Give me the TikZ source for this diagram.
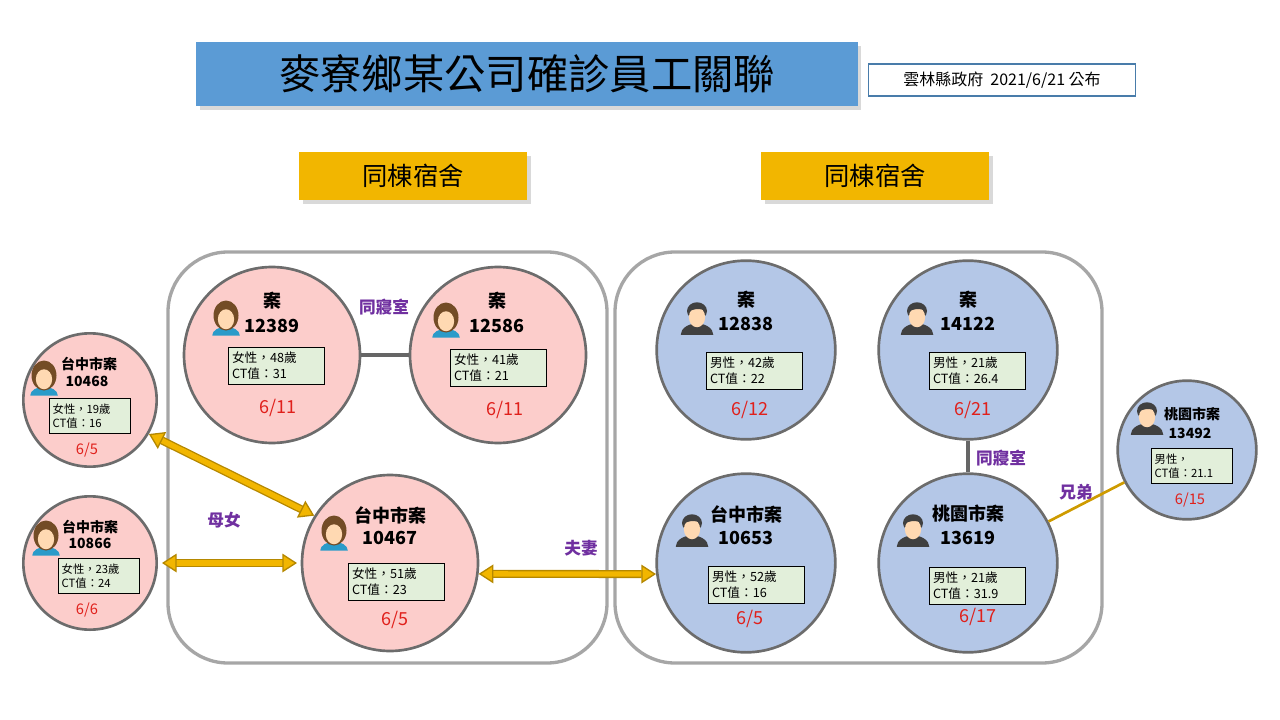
\documentclass[tikz,border=0pt]{standalone}
\usepackage{fontspec}
\setmainfont{Noto Sans CJK TC}
\usetikzlibrary{arrows.meta,shadows}
\definecolor{pinkc}{HTML}{FCCDCB}
\definecolor{bluec}{HTML}{B4C7E7}
\definecolor{infoc}{HTML}{E2EFDA}
\definecolor{goldc}{HTML}{F2B600}
\definecolor{titlec}{HTML}{5B9BD5}
\definecolor{purp}{HTML}{7030A0}
\definecolor{datec}{HTML}{E0201B}
\tikzset{
  case/.style={circle,draw=gray!85!black,line width=2pt,inner sep=0pt},
  ttl/.style={font=\bfseries\fontsize{13.5}{14}\selectfont,inner sep=0pt},
  info/.style={draw=black,fill=infoc,align=left,font=\fontsize{9.5}{12}\selectfont,inner sep=2pt,minimum width=72pt,minimum height=28pt,text width=66pt},
  sinfo/.style={info,font=\fontsize{8.5}{10.5}\selectfont,minimum width=61pt,minimum height=26pt,text width=56pt},
  datel/.style={text=datec,font=\fontsize{13.5}{14}\selectfont},
  rel/.style={text=purp,font=\bfseries\fontsize{12.5}{13}\selectfont},
  link/.style={line width=2.5pt,gray!80!black},
  kin/.style={draw=goldc!75!black,line width=1pt,double=goldc,double distance=4pt,{Triangle[length=11pt,width=14pt,fill=goldc]}-{Triangle[length=11pt,width=14pt,fill=goldc]}},
  house/.style={rounded corners=45pt,draw=gray!70,line width=2.5pt},
  banner/.style={fill=goldc,drop shadow={opacity=0.3},font=\fontsize{19}{20}\selectfont,minimum width=171pt,minimum height=36pt}
}
\newcommand\femaleicon[1]{%
  \begin{scope}[shift={#1},scale=1.25]
    \fill[cyan!60!teal] (-11,14) arc (180:360:11 and 7) -- cycle;
    \fill[brown!60!black] (0,-2) ellipse (10 and 12);
    \fill[orange!30!white] (0,1) ellipse (6.5 and 8);
  \end{scope}}
\newcommand\maleicon[1]{%
  \begin{scope}[shift={#1},scale=1.25]
    \fill[darkgray] (-13,15) arc (180:360:13 and 9) -- cycle;
    \fill[black!75] (0,-4) ellipse (8 and 7);
    \fill[orange!30!white] (0,1) ellipse (6.5 and 8);
    \fill[black!75] (-7,-3) .. controls (-3,-12) and (4,-12) .. (7,-3) -- (5,-5) .. controls (1,-6) and (-3,-6) .. (-7,-3);
  \end{scope}}
\newcommand\patient[8]{%
  \node[ttl] at #1 {#3};
  \node[ttl] at #2 {#4};
  \node[#7] at #5 {#6};
  \node[datel] at #8}
\begin{document}
\begin{tikzpicture}[x=0.75pt,y=-0.75pt]
\useasboundingbox (0,0) rectangle (1280,720);
% title
\node[fill=titlec,drop shadow={opacity=0.3},minimum width=496pt,minimum height=48pt,font=\fontsize{31}{32}\selectfont] (title) at (527,74) {麥寮鄉某公司確診員工關聯};
\node[draw=titlec!80!black,line width=1.2pt,minimum width=200pt,minimum height=24pt,font=\fontsize{12}{13}\selectfont] (src) at (1002,80) {雲林縣政府\ \ 2021/6/21 公布};
\node[banner] (dorm1) at (413,176) {同棟宿舍};
\node[banner] (dorm2) at (875,176) {同棟宿舍};
% dormitories
\draw[house] (168,252) rectangle (607,663);
\draw[house] (615,252) rectangle (1102,663);
% case circles
\node[case,fill=pinkc,minimum size=132pt] (c12389) at (272,355) {};
\node[case,fill=pinkc,minimum size=132pt] (c12586) at (498,355) {};
\node[case,fill=pinkc,minimum size=132pt] (c10467) at (390,563) {};
\node[case,fill=pinkc,minimum size=100pt] (c10468) at (90,400) {};
\node[case,fill=pinkc,minimum size=100pt] (c10866) at (90,563) {};
\node[case,fill=bluec,minimum size=134pt] (c12838) at (746,350) {};
\node[case,fill=bluec,minimum size=134pt] (c14122) at (968,350) {};
\node[case,fill=bluec,minimum size=134pt] (c10653) at (746,563) {};
\node[case,fill=bluec,minimum size=134pt] (c13619) at (968,563) {};
\node[case,fill=bluec,minimum size=104pt] (c13492) at (1187,450) {};
% relations
\draw[link] (c12389) -- (c12586);
\draw[link] (c14122) -- (c13619);
\draw[goldc!85!black,line width=2pt] (c13619) -- (c13492);
\node[rel] (r1) at (384,307) {同寢室};
\node[rel] (r2) at (1001,458) {同寢室};
\node[rel] (r3) at (1076,492) {兄弟};
\node[rel] (r4) at (224,520) {母女};
\node[rel] (r5) at (581,548) {夫妻};
\coordinate (k1) at (162,563);
\coordinate (k2) at (297,563);
\draw[kin] (c10468.-30) -- (c10467.148);
\draw[kin] (k1) -- (k2);
\draw[kin] (c10467.-7) -- (c10653.-173);
% contents
\femaleicon{(226,318)}
\patient{(272,301)}{(272,326)}{案}{12389}{(276,366)}{女性，48歲\\CT值：31}{info}{(278,408)}{6/11};
\femaleicon{(446,320)}
\patient{(497,301)}{(497,326)}{案}{12586}{(498,368)}{女性，41歲\\CT值：21}{info}{(505,410)}{6/11};
\femaleicon{(44,378)}
\patient{(89,364)}{(87,381)}{\fontsize{10.5}{12}\selectfont 台中市案}{\fontsize{10.5}{12}\selectfont 10468}{(90,416)}{女性，19歲\\CT值：16}{sinfo}{(87,450)}{\fontsize{11}{12}\selectfont 6/5};
\femaleicon{(46,538)}
\patient{(90,527)}{(90,543)}{\fontsize{10.5}{12}\selectfont 台中市案}{\fontsize{10.5}{12}\selectfont 10866}{(99,576)}{女性，23歲\\CT值：24}{sinfo}{(87,610)}{\fontsize{11}{12}\selectfont 6/6};
\femaleicon{(334,533)}
\patient{(390,515)}{(390,538)}{台中市案}{10467}{(396,582)}{女性，51歲\\CT值：23}{info}{(395,620)}{6/5};
\maleicon{(697,316)}
\patient{(746,300)}{(746,324)}{案}{12838}{(754,371)}{男性，42歲\\CT值：22}{info}{(750,410)}{6/12};
\maleicon{(917,316)}
\patient{(968,300)}{(968,324)}{案}{14122}{(977,371)}{男性，21歲\\CT值：26.4}{info}{(973,410)}{6/21};
\maleicon{(692,528)}
\patient{(746,514)}{(746,538)}{台中市案}{10653}{(756,585)}{男性，52歲\\CT值：16}{info}{(750,619)}{6/5};
\maleicon{(913,528)}
\patient{(968,514)}{(968,538)}{桃園市案}{13619}{(977,586)}{男性，21歲\\CT值：31.9}{info}{(978,617)}{6/17};
\maleicon{(1147,416)}
\patient{(1192,414)}{(1190,433)}{\fontsize{10.5}{12}\selectfont 桃園市案}{\fontsize{10.5}{12}\selectfont 13492}{(1192,466)}{男性，\\CT值：21.1}{sinfo}{(1190,500)}{\fontsize{11}{12}\selectfont 6/15};
\end{tikzpicture}
\end{document}
